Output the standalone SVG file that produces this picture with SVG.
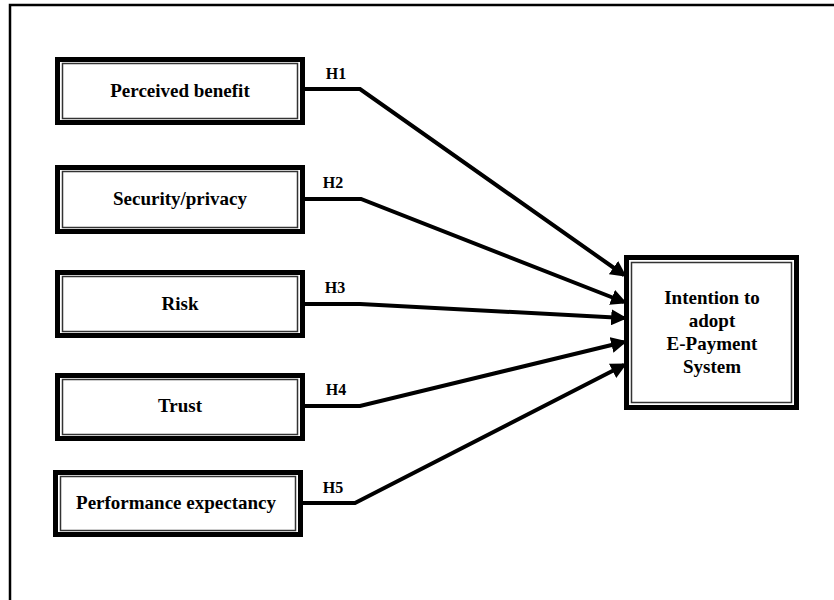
<svg xmlns="http://www.w3.org/2000/svg" width="834" height="600" viewBox="0 0 834 600">
<defs>
<style>
.outer{fill:#fff;stroke:#000;stroke-width:5}
.inner{fill:none;stroke:#333;stroke-width:1.5}
.lbl{font-family:"Liberation Serif","Times New Roman",serif;font-weight:bold;font-size:19px;fill:#000;text-anchor:middle}
.h{font-family:"Liberation Serif","Times New Roman",serif;font-weight:bold;font-size:16px;fill:#000;text-anchor:middle}
.conn{fill:none;stroke:#000;stroke-width:4;stroke-linejoin:miter}
</style>
<marker id="arr" markerWidth="4" markerHeight="4" refX="3.2" refY="2" orient="auto" markerUnits="strokeWidth">
<path d="M0,0 L4,2 L0,4 Z" fill="#000"/>
</marker>
</defs>
<rect width="834" height="600" fill="#fff"/>
<path d="M10,600 V5 H834" fill="none" stroke="#000" stroke-width="2.5"/>

<g id="perceived-benefit">
<rect class="outer" x="57.5" y="59.5" width="245" height="63"/>
<rect class="inner" x="62.5" y="63.5" width="235" height="55"/>
<text class="lbl" x="180" y="97">Perceived benefit</text>
</g>
<g id="security-privacy">
<rect class="outer" x="57.5" y="167.5" width="245" height="64"/>
<rect class="inner" x="62.5" y="171.5" width="235" height="56"/>
<text class="lbl" x="180" y="205">Security/privacy</text>
</g>
<g id="risk">
<rect class="outer" x="57.5" y="272.5" width="245" height="63"/>
<rect class="inner" x="62.5" y="276.5" width="235" height="55"/>
<text class="lbl" x="180" y="310">Risk</text>
</g>
<g id="trust">
<rect class="outer" x="57.5" y="375.5" width="245" height="63"/>
<rect class="inner" x="62.5" y="379.5" width="235" height="55"/>
<text class="lbl" x="180" y="412">Trust</text>
</g>
<g id="performance-expectancy">
<rect class="outer" x="55.5" y="472.5" width="245" height="62"/>
<rect class="inner" x="60.5" y="476.5" width="235" height="54"/>
<text class="lbl" x="176" y="509">Performance expectancy</text>
</g>
<g id="intention">
<rect class="outer" x="626.5" y="257.5" width="170" height="150"/>
<rect class="inner" x="631.5" y="262.5" width="160" height="140"/>
<text class="lbl" x="712" y="304">Intention to</text>
<text class="lbl" x="712" y="327">adopt</text>
<text class="lbl" x="712" y="350">E-Payment</text>
<text class="lbl" x="712" y="373">System</text>
</g>

<g id="connectors">
<path class="conn" marker-end="url(#arr)" d="M303,89 H360 L624,275"/>
<path class="conn" marker-end="url(#arr)" d="M303,199 H361 L624,302"/>
<path class="conn" marker-end="url(#arr)" d="M303,304 H360 L624,318"/>
<path class="conn" marker-end="url(#arr)" d="M303,406 H360 L624,342"/>
<path class="conn" marker-end="url(#arr)" d="M301,503 H355 L624,365"/>
</g>
<g id="labels">
<text class="h" x="336" y="79">H1</text>
<text class="h" x="333" y="188">H2</text>
<text class="h" x="335" y="293">H3</text>
<text class="h" x="336" y="395">H4</text>
<text class="h" x="333" y="493">H5</text>
</g>
</svg>
